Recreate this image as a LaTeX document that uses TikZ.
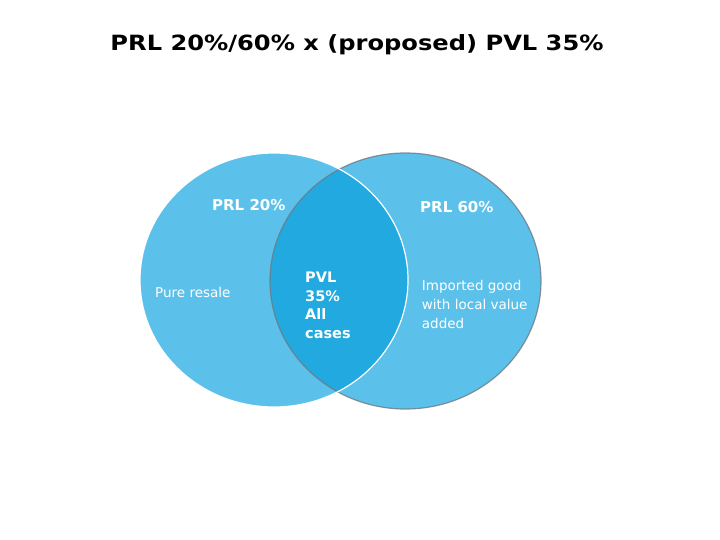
\documentclass[tikz,border=0pt]{standalone}
\usepackage{fontspec}
\setmainfont{DejaVu Sans}
\newfontfamily\titlefont[FakeStretch=1.15]{DejaVu Sans}
\definecolor{vennlight}{HTML}{5CC1EA}
\definecolor{venndark}{HTML}{22A9DF}
\definecolor{venngray}{HTML}{6F7A82}
\tikzset{
  boldlabel/.style={text=white,font=\bfseries\fontsize{15}{18.6}\selectfont,inner sep=0pt},
  plainlabel/.style={text=white,font=\fontsize{13.5}{19}\selectfont,inner sep=0pt,align=left},
}
\begin{document}
\begin{tikzpicture}[x=1pt,y=-1pt]
  \useasboundingbox (0,0) rectangle (720,540);
  % sets
  \fill[vennlight] (405.5,281) ellipse [x radius=135.5, y radius=128];
  \fill[vennlight] (274,280) ellipse [x radius=134, y radius=127];
  \begin{scope}
    \clip (405.5,281) ellipse [x radius=135.5, y radius=128];
    \fill[venndark] (274,280) ellipse [x radius=134, y radius=127];
  \end{scope}
  \draw[venngray,draw opacity=0.8,line width=1.2pt] (405.5,281) ellipse [x radius=135.5, y radius=128];
  \draw[white,line width=1.2pt] (274,280) ellipse [x radius=134, y radius=127];
  % texts (multi-line nodes: base is the last line)
  \node[anchor=base,inner sep=0pt,font=\titlefont\bfseries\fontsize{21}{25}\selectfont] (title) at (357,50.7)
    {PRL 20\%/60\% x (proposed) PVL 35\%};
  \node[boldlabel,anchor=base west] (prlleft) at (212,211) {PRL 20\%};
  \node[boldlabel,anchor=base west] (prlright) at (420,213) {PRL 60\%};
  \node[plainlabel,anchor=base west] (resale) at (155,297) {Pure resale};
  \node[boldlabel,anchor=base west,align=left,font=\bfseries\fontsize{14.5}{18.6}\selectfont] (pvl) at (305,338.3)
    {PVL\\35\%\\All\\cases};
  \node[plainlabel,anchor=base west] (imported) at (421.7,328)
    {Imported good\\with local value\\added};
\end{tikzpicture}
\end{document}
